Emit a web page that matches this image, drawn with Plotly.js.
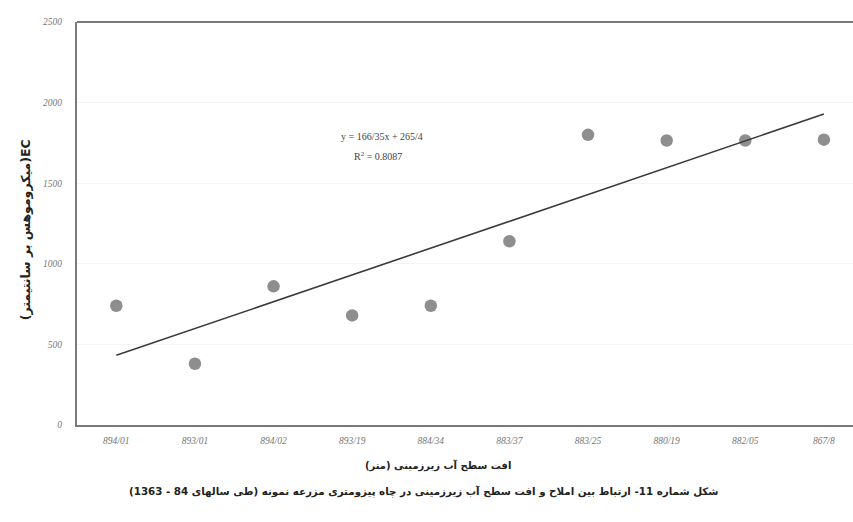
<!DOCTYPE html>
<html>
<head>
<meta charset="utf-8">
<script src="https://cdn.plot.ly/plotly-3.0.1.min.js"></script>
<style>html,body{margin:0;padding:0;background:#fff;}#chart{width:853px;height:522px;}</style>
</head>
<body>
<div id="chart"></div>
<script>
// Data
const categories = ["894/01", "893/01", "894/02", "893/19", "884/34", "883/37", "883/25", "880/19", "882/05", "867/8"];
const ecValues = [740, 380, 860, 680, 740, 1140, 1800, 1765, 1765, 1770];
const trendCategories = ["894/01", "867/8"];
const trendValues = [432, 1929];
const yTicks = [0, 500, 1000, 1500, 2000, 2500];
const equationText = "y = 166/35x + 265/4";
const r2Text = "R<sup>2</sup> = 0.8087";
const xTitle = "\u200Fافت سطح آب زیرزمینی (متر)\u200F";
const yTitle = "(میکروموهس بر سانتیمتر)EC";
const caption = "\u200Fشکل شماره 11- ارتباط بین املاح و افت سطح آب زیرزمینی در چاه پیزومتری مزرعه نمونه (طی سالهای 84 - 1363)\u200F";

const traces = [
  {
    x: categories, y: ecValues, type: "scatter", mode: "markers",
    marker: {color: "#8e8e8e", size: 12.5, line: {width: 0}},
    hoverinfo: "skip"
  },
  {
    x: trendCategories, y: trendValues, type: "scatter", mode: "lines",
    line: {color: "#3a3a3a", width: 1.6},
    hoverinfo: "skip"
  }
];

const layout = {
  width: 853, height: 522,
  margin: {l: 77, r: 0, t: 22, b: 97},
  paper_bgcolor: "#ffffff", plot_bgcolor: "#ffffff",
  showlegend: false,
  font: {family: "Liberation Serif, serif", color: "#555"},
  xaxis: {
    type: "category", categoryorder: "array", categoryarray: categories,
    range: [-0.5, 9.37],
    showgrid: false, zeroline: false,
    showline: true, linecolor: "#7a7a7a", linewidth: 2,
    ticks: "", ticklabelstandoff: 6,
    tickfont: {family: "Liberation Serif, serif", size: 9.5, color: "#777", style: "italic"}
  },
  yaxis: {
    range: [0, 2500], tickvals: yTicks, ticktext: yTicks.map(String),
    showgrid: true, gridcolor: "#f4f4f4", gridwidth: 1, zeroline: false,
    showline: true, linecolor: "#7a7a7a", linewidth: 2,
    ticks: "", ticklabelstandoff: 11,
    tickfont: {family: "Liberation Serif, serif", size: 9.5, color: "#777", style: "italic"}
  },
  shapes: [
    {type: "line", xref: "paper", yref: "paper", x0: 0, x1: 1, y0: 1, y1: 1,
     line: {color: "#7a7a7a", width: 2}}
  ],
  annotations: [
    {text: equationText, xref: "paper", yref: "paper", x: 0.393, y: 0.715, yanchor: "middle",
     showarrow: false, font: {family: "Liberation Serif, serif", size: 10, color: "#444"}},
    {text: r2Text, xref: "paper", yref: "paper", x: 0.388, y: 0.668, yanchor: "middle",
     showarrow: false, font: {family: "Liberation Serif, serif", size: 10, color: "#444"}},
    {text: xTitle, xref: "paper", yref: "paper", x: 0.465, y: -0.10, yanchor: "middle",
     showarrow: false, font: {family: "DejaVu Sans, sans-serif", size: 10, color: "#222", weight: "bold"}},
    {text: caption, xref: "paper", yref: "paper", x: 0.447, y: -0.165, yanchor: "middle",
     showarrow: false, font: {family: "DejaVu Sans, sans-serif", size: 10.3, color: "#222", weight: "bold"}},
    {text: yTitle, xref: "paper", yref: "paper", x: -0.066, y: 0.485, xanchor: "center", yanchor: "middle",
     textangle: -90, showarrow: false,
     font: {family: "DejaVu Sans, sans-serif", size: 12.5, color: "#222", weight: "bold"}}
  ]
};

Plotly.newPlot("chart", traces, layout, {displayModeBar: false, staticPlot: true});
</script>
</body>
</html>
